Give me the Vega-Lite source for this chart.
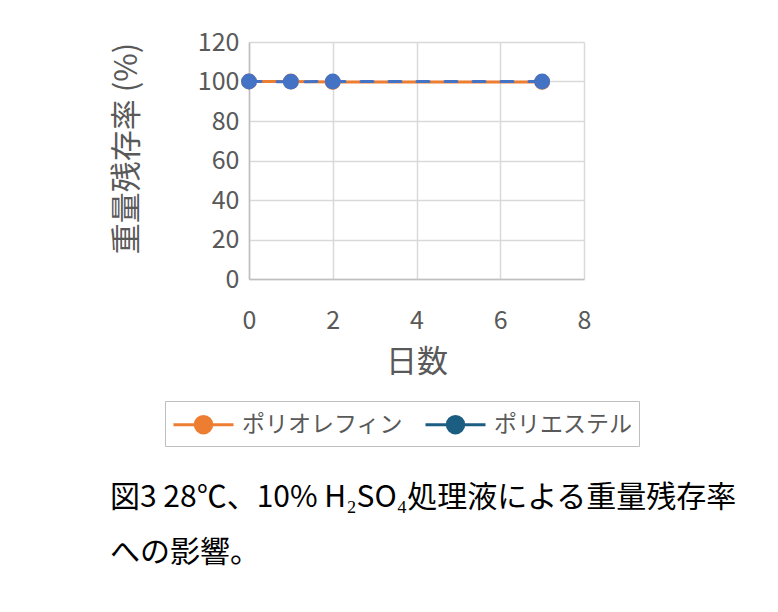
{
  "$schema": "https://vega.github.io/schema/vega-lite/v6.json",
  "description": "Weight retention after 10% H2SO4 treatment at 28C.",
  "autosize": {"type": "none"},
  "width": 335,
  "height": 237,
  "padding": {"left": 249, "top": 42, "right": 194, "bottom": 333},
  "background": "white",
  "title": {
    "text": ["図3 28℃、10% H₂SO₄処理液による重量残存率", "への影響。"],
    "orient": "bottom",
    "anchor": "start",
    "frame": "group",
    "dx": -139,
    "offset": 36,
    "font": "Noto Sans CJK JP",
    "fontSize": 30,
    "fontWeight": "normal",
    "color": "#000000",
    "lineHeight": 55
  },
  "data": {
    "values": [
      {"series": "ポリオレフィン", "day": 0, "value": 100},
      {"series": "ポリオレフィン", "day": 1, "value": 100},
      {"series": "ポリオレフィン", "day": 2, "value": 99.8},
      {"series": "ポリオレフィン", "day": 7, "value": 99.8},
      {"series": "ポリエステル", "day": 0, "value": 100},
      {"series": "ポリエステル", "day": 1, "value": 99.9},
      {"series": "ポリエステル", "day": 2, "value": 100},
      {"series": "ポリエステル", "day": 7, "value": 100}
    ]
  },
  "encoding": {
    "x": {
      "field": "day",
      "type": "quantitative",
      "title": "日数",
      "scale": {"domain": [0, 8], "nice": false},
      "axis": {"values": [0, 2, 4, 6, 8], "titlePadding": 14}
    },
    "y": {
      "field": "value",
      "type": "quantitative",
      "title": "重量残存率 (%)",
      "scale": {"domain": [0, 120], "nice": false},
      "axis": {"values": [0, 20, 40, 60, 80, 100, 120], "titlePadding": 54, "titleY": 106}
    }
  },
  "layer": [
    {
      "transform": [{"filter": "datum.series === 'ポリオレフィン'"}],
      "mark": {"type": "line", "strokeWidth": 3, "point": {"filled": true, "size": 250}},
      "encoding": {
        "color": {
          "field": "series",
          "type": "nominal",
          "scale": {
            "domain": ["ポリオレフィン", "ポリエステル"],
            "range": ["#ED7D31", "#1B5E82"]
          },
          "legend": {
            "orient": "none",
            "legendX": -84,
            "legendY": 359,
            "direction": "horizontal",
            "title": null,
            "strokeColor": "#BFBFBF",
            "padding": 7,
            "columnPadding": 16,
            "labelFont": "Noto Sans CJK JP",
            "labelFontSize": 23,
            "labelColor": "#595959",
            "labelLimit": 400,
            "labelOffset": 22,
            "symbolOffset": 15,
            "symbolType": "M-2,0L2,0M-0.55,0A0.55,0.55 0 1,1 0.55,0A0.55,0.55 0 1,1 -0.55,0Z",
            "symbolSize": 900,
            "symbolStrokeWidth": 3
          }
        }
      }
    },
    {
      "transform": [{"filter": "datum.series === 'ポリエステル'"}],
      "mark": {
        "type": "line",
        "color": "#4472C4",
        "strokeWidth": 3,
        "strokeDash": [12, 16],
        "strokeCap": "round",
        "point": {"filled": true, "size": 250, "color": "#4472C4"}
      }
    }
  ],
  "config": {
    "view": {"stroke": null},
    "font": "Noto Sans CJK JP",
    "axis": {
      "labelFont": "Noto Sans CJK JP",
      "labelFontSize": 25,
      "labelColor": "#595959",
      "labelFlush": false,
      "titleFont": "Noto Sans CJK JP",
      "titleFontSize": 31,
      "titleFontWeight": "normal",
      "titleColor": "#595959",
      "gridColor": "#D9D9D9",
      "gridWidth": 1.5,
      "domainColor": "#BFBFBF",
      "domainWidth": 1.5,
      "ticks": false
    },
    "axisX": {"labelPadding": 29},
    "axisY": {"labelPadding": 10}
  }
}
